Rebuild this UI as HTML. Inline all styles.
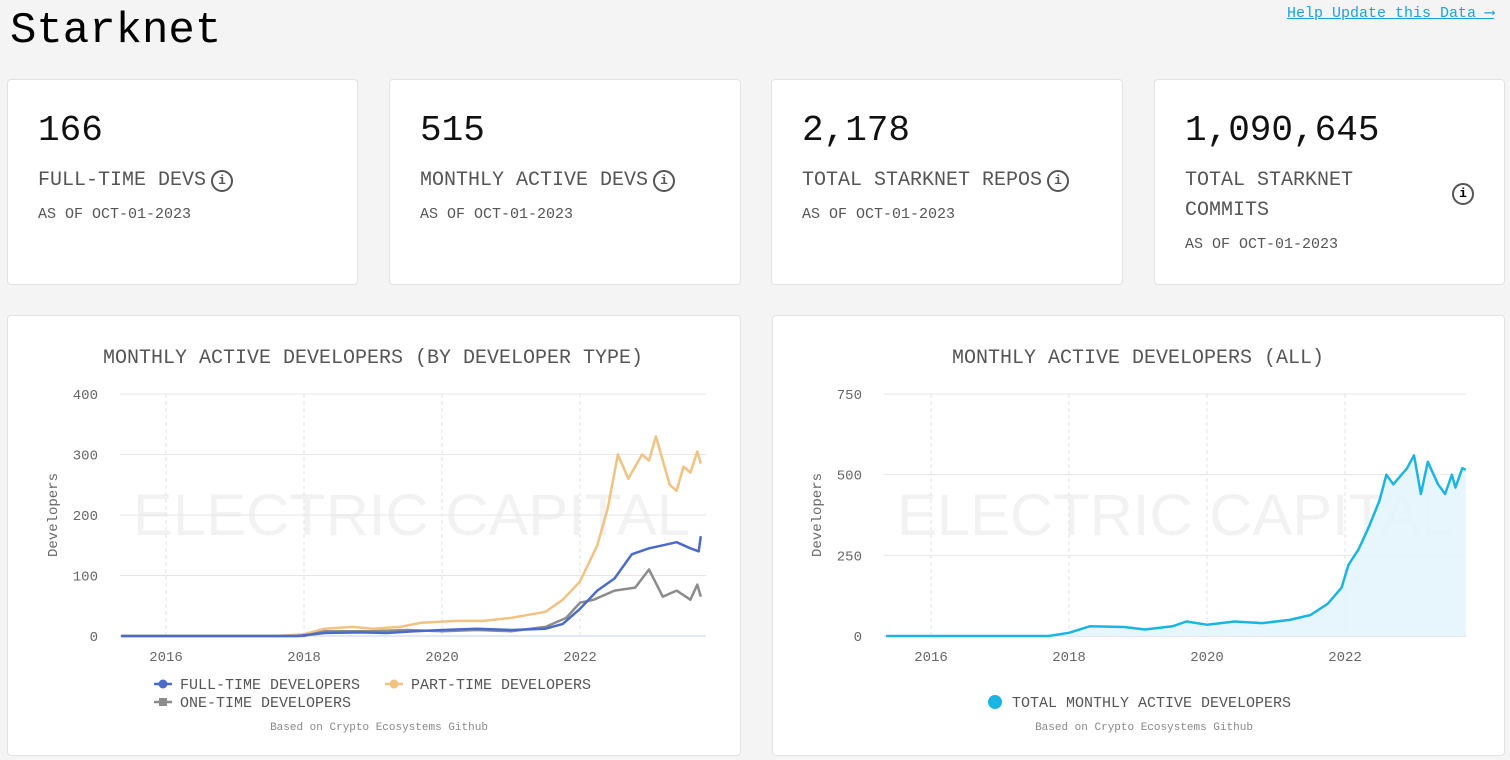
<!DOCTYPE html>
<html><head><meta charset="utf-8">
<style>
body{margin:0;width:1510px;height:760px;background:#f4f4f4;font-family:"Liberation Mono",monospace;position:relative;overflow:hidden;color:#000}
.card{position:absolute;background:#fff;border:1px solid #e2e2e2;border-radius:4px;box-sizing:border-box}
.num{position:absolute;left:30px;top:30px;font-size:36px;color:#111}
.lbl{position:absolute;left:30px;top:86px;font-size:20px;color:#555;line-height:30px}
.asof{position:absolute;left:30px;font-size:15px;color:#555}
.info{display:inline-block;width:18px;height:18px;border:2px solid #555;border-radius:50%;font-size:13px;line-height:18px;text-align:center;font-weight:bold;vertical-align:1px;box-sizing:content-box;margin-left:5px}
svg text{font-family:"Liberation Mono",monospace}
</style></head><body>
<div style="position:absolute;left:10px;top:6px;font-size:44px">Starknet</div>
<a style="position:absolute;left:1287px;top:3px;font-size:15px;color:#1aa3d9;text-decoration:underline">Help Update this Data ⟶</a>

<div class="card" style="left:7px;top:79px;width:351px;height:206px">
<div class="num">166</div><div class="lbl">FULL-TIME DEVS<span class="info">i</span></div><div class="asof" style="top:126px">AS OF OCT-01-2023</div></div>
<div class="card" style="left:389px;top:79px;width:352px;height:206px">
<div class="num">515</div><div class="lbl">MONTHLY ACTIVE DEVS<span class="info">i</span></div><div class="asof" style="top:126px">AS OF OCT-01-2023</div></div>
<div class="card" style="left:771px;top:79px;width:352px;height:206px">
<div class="num">2,178</div><div class="lbl">TOTAL STARKNET REPOS<span class="info">i</span></div><div class="asof" style="top:126px">AS OF OCT-01-2023</div></div>
<div class="card" style="left:1154px;top:79px;width:351px;height:206px">
<div class="num">1,090,645</div><div class="lbl">TOTAL STARKNET<br>COMMITS</div><span class="info" style="position:absolute;left:292px;top:103px">i</span><div class="asof" style="top:156px">AS OF OCT-01-2023</div></div>

<div class="card" style="left:7px;top:315px;width:734px;height:441px"></div>
<div class="card" style="left:772px;top:315px;width:733px;height:441px"></div>
<svg id="s" width="1510" height="760" style="position:absolute;left:0;top:0"></svg>
<script>
const tFT=[2015.35,2017.9,2018.3,2018.8,2019.2,2019.6,2020.0,2020.5,2021.0,2021.5,2021.75,2022.0,2022.25,2022.5,2022.75,2023.0,2023.2,2023.4,2023.6,2023.72,2023.75];
const vFT=[0,0,5,6,5,8,10,12,10,12,20,45,75,95,135,145,150,155,145,140,165];
const tPT=[2015.35,2017.6,2018.0,2018.3,2018.7,2019.0,2019.4,2019.7,2020.2,2020.6,2021.0,2021.25,2021.5,2021.75,2022.0,2022.25,2022.4,2022.55,2022.7,2022.9,2023.0,2023.1,2023.3,2023.4,2023.5,2023.6,2023.7,2023.75];
const vPT=[0,0,3,12,15,12,15,22,25,25,30,35,40,60,90,150,210,300,260,300,290,330,250,240,280,270,305,285];
const tOT=[2015.35,2018.0,2018.3,2019.0,2019.5,2020.0,2020.5,2021.0,2021.5,2021.8,2022.0,2022.2,2022.5,2022.8,2023.0,2023.2,2023.4,2023.6,2023.7,2023.75];
const vOT=[0,0,8,8,10,8,10,8,15,30,55,60,75,80,110,65,75,60,85,65];
const tAll=[2015.35,2017.7,2018.0,2018.3,2018.8,2019.1,2019.5,2019.7,2020.0,2020.4,2020.8,2021.2,2021.5,2021.75,2021.95,2022.05,2022.2,2022.35,2022.5,2022.6,2022.7,2022.9,2023.0,2023.1,2023.2,2023.35,2023.45,2023.55,2023.6,2023.7,2023.75];
const vAll=[0,0,10,30,28,20,30,45,35,45,40,50,65,100,150,220,270,340,420,500,470,520,560,440,540,470,440,500,460,520,515];
const yearTicks=[2016,2018,2020,2022];
const leftTicks=[0,100,200,300,400];
const rightTicks=[0,250,500,750];
const svg=document.getElementById('s');const NS='http://www.w3.org/2000/svg';
function el(tag,a,txt){const e=document.createElementNS(NS,tag);for(const k in a)e.setAttribute(k,a[k]);if(txt!==undefined)e.textContent=txt;svg.appendChild(e);return e;}
function chart(x2016,x0,x1,yMax,ticks,title,tcx,name){
  const X=t=>x2016+(t-2016)*69,Y=v=>636-v/yMax*242;
  let e=el('text',{x:tcx,y:363,'font-size':20,fill:'#555','text-anchor':'middle'},title);
  
  
  e=el('text',{x:x0+13,y:535,'font-size':58,fill:'#f2f2f2',style:'font-family:"Liberation Sans",sans-serif',textLength:557,lengthAdjust:'spacingAndGlyphs'},'ELECTRIC   CAPITAL');
  
  
  ticks.forEach(v=>{el('line',{x1:x0,x2:x1,y1:Y(v),y2:Y(v),stroke:v?'#e6e6e6':'#c8d2ee','stroke-width':1});
    e=el('text',{x:x0-22,y:Y(v)+5,'font-size':14,fill:'#666','text-anchor':'end'},v);
    
    });
  yearTicks.forEach(t=>{el('line',{x1:X(t),x2:X(t),y1:394,y2:636,stroke:'#e3e3e3','stroke-dasharray':'4 3'});
    e=el('text',{x:X(t),y:661,'font-size':14,fill:'#666','text-anchor':'middle'},t);
    
    });
  e=el('text',{x:0,y:0,'font-size':14,fill:'#666','text-anchor':'middle',transform:`translate(${x0-63},515) rotate(-90)`},'Developers');
  
  
  return {X,Y};
}
function line(ax,ts,vs,color,name,fill){
  const pts=ts.map((t,i)=>ax.X(t).toFixed(1)+','+ax.Y(vs[i]).toFixed(1));
  if(fill){const f=el('polygon',{points:pts.join(' ')+` ${ax.X(ts[ts.length-1])},636 ${ax.X(ts[0])},636`,fill:'#e3f5fb',opacity:0.85});
    
    }
  const p=el('polyline',{points:pts.join(' '),fill:'none',stroke:color,'stroke-width':2.5,'stroke-linejoin':'round'});
  
  
}
const A=chart(166,120,706,400,leftTicks,'MONTHLY ACTIVE DEVELOPERS (BY DEVELOPER TYPE)',373,'by-type-chart');
line(A,tPT,vPT,'#f2c283','part-time-line');
line(A,tOT,vOT,'#8c8c8c','one-time-line');
line(A,tFT,vFT,'#4a6bc9','full-time-line');
const B=chart(931,884,1466,750,rightTicks,'MONTHLY ACTIVE DEVELOPERS (ALL)',1138,'all-chart');
line(B,tAll,vAll,'#1ab5e2','total-line',true);
function leg(x,y,color,label,sq,name){
  const g=el('g',{});
  el('line',{x1:x-9,x2:x+9,y1:y,y2:y,stroke:color,'stroke-width':2.5});
  if(sq)el('rect',{x:x-4,y:y-4,width:8,height:8,fill:color});else el('circle',{cx:x,cy:y,r:4.5,fill:color});
  el('text',{x:x+17,y:y+5,'font-size':15,fill:'#555'},label);
}
leg(163,684,'#4a6bc9','FULL-TIME DEVELOPERS',false,'legend-full-time');
leg(394,684,'#f2c283','PART-TIME DEVELOPERS',false,'legend-part-time');
leg(163,702,'#8c8c8c','ONE-TIME DEVELOPERS',true,'legend-one-time');
let c=el('circle',{cx:995,cy:702,r:7,fill:'#1ab5e2'});


el('text',{x:1012,y:707,'font-size':15,fill:'#555'},'TOTAL MONTHLY ACTIVE DEVELOPERS');
let f1=el('text',{x:379,y:730,'font-size':11,fill:'#888','text-anchor':'middle'},'Based on Crypto Ecosystems Github');


let f2=el('text',{x:1144,y:730,'font-size':11,fill:'#888','text-anchor':'middle'},'Based on Crypto Ecosystems Github');


</script>
</body></html>
